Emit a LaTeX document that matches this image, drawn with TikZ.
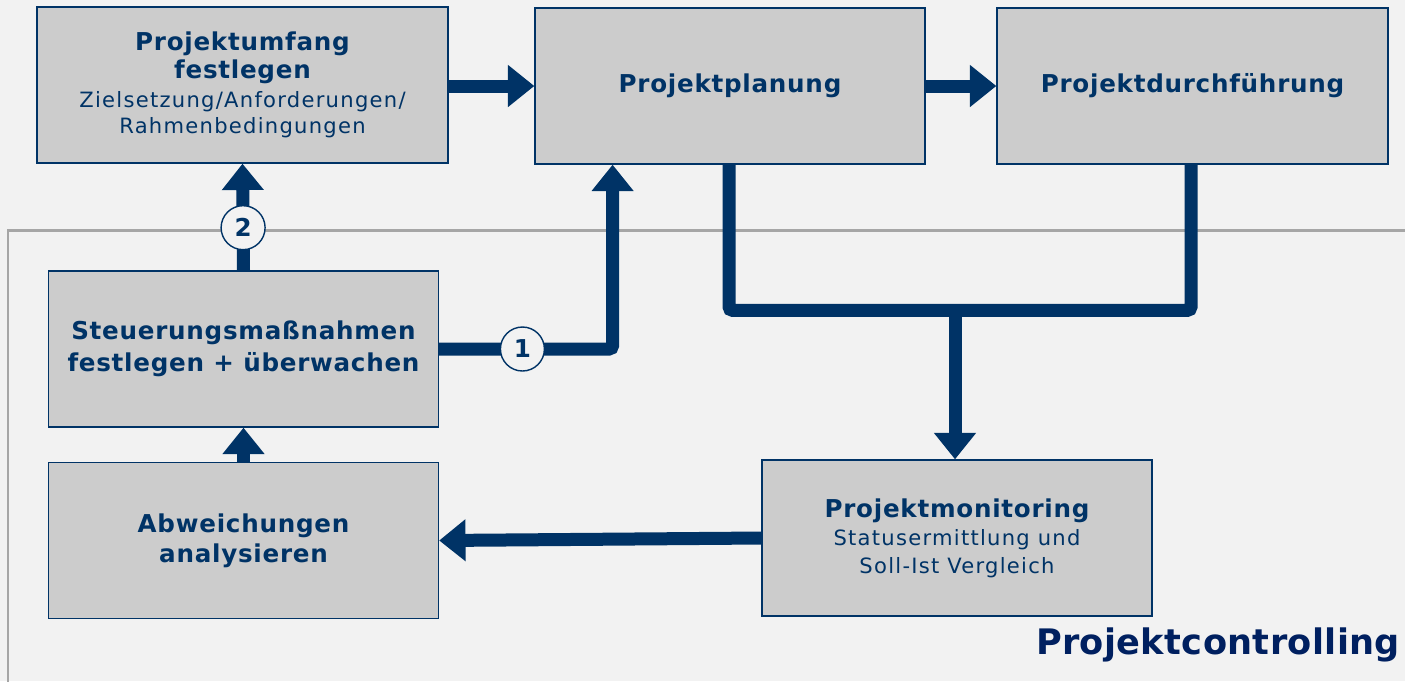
\documentclass[tikz,border=0pt]{standalone}
\usepackage{fontspec}
\setmainfont{DejaVu Sans}
\usetikzlibrary{arrows.meta, positioning, calc}
\definecolor{pagegray}{HTML}{F2F2F2}
\definecolor{boxgray}{HTML}{CCCCCC}
\definecolor{framegray}{HTML}{A6A6A6}
\definecolor{controlnavy}{HTML}{003366}
\definecolor{titlenavy}{HTML}{002060}
\newcommand{\boxhead}{\bfseries\fontsize{14}{16}\selectfont\addfontfeatures{LetterSpace=3}}
\newcommand{\boxsub}{\mdseries\fontsize{12}{14}\selectfont\addfontfeatures{LetterSpace=6}}
\tikzset{
  stepbox/.style={draw=controlnavy, line width=0.8pt, fill=boxgray, minimum width=7.8cm, minimum height=3.12cm, align=center, text=controlnavy, font=\boxhead, inner sep=0pt},
  flow/.style={controlnavy, line width=7.4pt, rounded corners=2pt, -{Triangle[length=15pt, width=23pt]}},
  flowline/.style={controlnavy, line width=7.4pt, rounded corners=2pt},
  numcircle/.style={circle, draw=controlnavy, line width=0.8pt, fill=pagegray, minimum size=0.88cm, inner sep=0pt, text=controlnavy, font=\bfseries\fontsize{14}{14}\selectfont},
}

\begin{document}
\begin{tikzpicture}[x=0.02cm, y=-0.02cm]
  \fill[pagegray] (0,0) rectangle (1405,681);
  \clip (0,0) rectangle (1405,681);

  % Controlling frame
  \draw[framegray, line width=1.7pt] (8,230) rectangle (1450,720);
  \node[text=titlenavy, font=\bfseries\fontsize{20}{20}\selectfont\addfontfeatures{LetterSpace=1}] (ctrltitle) at (1218,645) {Projektcontrolling};

  % Top row
  \node[stepbox, minimum width=8.22cm] (umfang) at (242.5,85) {Projektumfang\\ festlegen\\[0pt] {\boxsub Zielsetzung/Anforderungen/}\\[-1pt] {\boxsub Rahmenbedingungen}};
  \node[stepbox] (planung) at (730,86) {Projektplanung};
  \node[stepbox, minimum width=7.82cm] (durchfuehrung) at (1192.5,86) {Projektdurchführung};

  % Controlling loop
  \node[stepbox] (steuerung) at (243.5,349) {Steuerungsmaßnahmen\\[2pt] festlegen + überwachen};
  \node[stepbox] (abweichung) at (243.5,540.5) {Abweichungen\\[1pt] analysieren};
  \node[stepbox] (monitoring) at (957,538) {Projektmonitoring\\[0pt] {\boxsub Statusermittlung und}\\[0pt] {\boxsub Soll-Ist Vergleich}};

  \coordinate (planentry) at ($(planung.south west)!0.2!(planung.south east)$);
  \coordinate (junction) at ($(monitoring.north)+(-2,-149)$);

  % Connectors
  \draw[flow] (umfang.east |- planung.west) -- (planung.west);
  \draw[flow] (planung) -- (durchfuehrung);
  \draw[flowline] (planung.south -| 729,0) |- (junction) -| (durchfuehrung.south -| 1191,0);
  \draw[flow] (junction) -- (junction |- monitoring.north);
  \draw[flow] (monitoring.west) -- (abweichung.east);
  \draw[flow] (abweichung) -- (steuerung);
  \draw[flow] (steuerung.north) -- (umfang.south) node[numcircle, pos=0.4] (marker2) {2};
  \draw[flow] (steuerung.east) -| (planentry) node[numcircle, pos=0.24] (marker1) {1};
\end{tikzpicture}
\end{document}
